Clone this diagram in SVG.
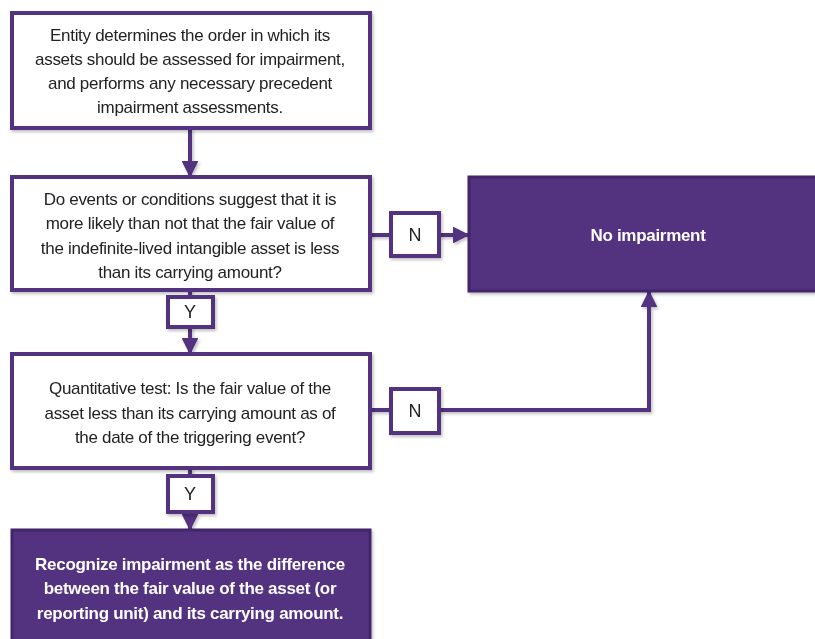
<svg xmlns="http://www.w3.org/2000/svg" width="815" height="639" viewBox="0 0 815 639">
  <defs>
    <filter id="sh" x="-10%" y="-10%" width="130%" height="130%">
      <feDropShadow dx="1.5" dy="2" stdDeviation="1.5" flood-color="#000" flood-opacity="0.25"/>
    </filter>
    <marker id="ah" viewBox="0 0 10 10" refX="9" refY="5" markerWidth="4.2" markerHeight="4.2" orient="auto" markerUnits="strokeWidth">
      <path d="M0,0 L10,5 L0,10 z" fill="#52307f"/>
    </marker>
    <style>
      .box { fill: #ffffff; stroke: #52307f; stroke-width: 4; }
      .dark { fill: #52307f; stroke: #43256b; stroke-width: 3; }
      .lbl { fill: #ffffff; stroke: #52307f; stroke-width: 4; }
      .t { font-family: "Liberation Sans", Arial, sans-serif; font-size: 17px; fill: #222222; text-anchor: middle; letter-spacing: -0.3px; }
      .n { font-family: "Liberation Sans", Arial, sans-serif; font-size: 18px; fill: #222222; text-anchor: middle; }
      .tw { font-family: "Liberation Sans", Arial, sans-serif; font-size: 17px; font-weight: bold; fill: #ffffff; text-anchor: middle; letter-spacing: -0.3px; }
      .c { fill: none; stroke: #52307f; stroke-width: 4; }
    </style>
  </defs>

  <g id="connectors" filter="url(#sh)">
    <line class="c" x1="190" y1="128" x2="190" y2="176" marker-end="url(#ah)"/>
    <line class="c" x1="370" y1="235" x2="391" y2="235"/>
    <line class="c" x1="439" y1="235" x2="468" y2="235" marker-end="url(#ah)"/>
    <line class="c" x1="190" y1="290" x2="190" y2="297"/>
    <line class="c" x1="190" y1="327" x2="190" y2="353" marker-end="url(#ah)"/>
    <line class="c" x1="370" y1="410" x2="391" y2="410"/>
    <polyline class="c" points="439,410 649,410 649,292" marker-end="url(#ah)"/>
    <line class="c" x1="190" y1="468" x2="190" y2="476"/>
    <line class="c" x1="190" y1="512" x2="190" y2="529" marker-end="url(#ah)"/>
  </g>

  <g id="start" filter="url(#sh)">
    <rect class="box" x="12" y="13" width="358" height="115"/>
    <text class="t" x="190" y="41">Entity determines the order in which its</text>
    <text class="t" x="190" y="65">assets should be assessed for impairment,</text>
    <text class="t" x="190" y="89">and performs any necessary precedent</text>
    <text class="t" x="190" y="113">impairment assessments.</text>
  </g>

  <g id="q1" filter="url(#sh)">
    <rect class="box" x="12" y="177" width="358" height="113"/>
    <text class="t" x="190" y="205">Do events or conditions suggest that it is</text>
    <text class="t" x="190" y="229">more likely than not that the fair value of</text>
    <text class="t" x="190" y="254">the indefinite-lived intangible asset is less</text>
    <text class="t" x="190" y="278">than its carrying amount?</text>
  </g>

  <g id="n1" filter="url(#sh)">
    <rect class="lbl" x="391" y="213" width="48" height="43"/>
    <text class="n" x="415" y="241">N</text>
  </g>

  <g id="noimp" filter="url(#sh)">
    <rect class="dark" x="469" y="177" width="362" height="114"/>
    <text class="tw" x="648" y="241">No impairment</text>
  </g>

  <g id="y1" filter="url(#sh)">
    <rect class="lbl" x="168" y="297" width="45" height="30"/>
    <text class="n" x="190" y="318">Y</text>
  </g>

  <g id="q2" filter="url(#sh)">
    <rect class="box" x="12" y="354" width="358" height="114"/>
    <text class="t" x="190" y="394">Quantitative test: Is the fair  value of the</text>
    <text class="t" x="190" y="419">asset less than its carrying amount as of</text>
    <text class="t" x="190" y="443">the date of the triggering event?</text>
  </g>

  <g id="n2" filter="url(#sh)">
    <rect class="lbl" x="391" y="389" width="48" height="44"/>
    <text class="n" x="415" y="417">N</text>
  </g>

  <g id="y2" filter="url(#sh)">
    <rect class="lbl" x="168" y="476" width="45" height="36"/>
    <text class="n" x="190" y="500">Y</text>
  </g>

  <g id="recognize" filter="url(#sh)">
    <rect class="dark" x="12" y="530" width="358" height="130"/>
    <text class="tw" x="190" y="570">Recognize impairment as the difference</text>
    <text class="tw" x="190" y="594">between the fair value of the asset (or</text>
    <text class="tw" x="190" y="619">reporting unit) and its carrying amount.</text>
  </g>
</svg>
